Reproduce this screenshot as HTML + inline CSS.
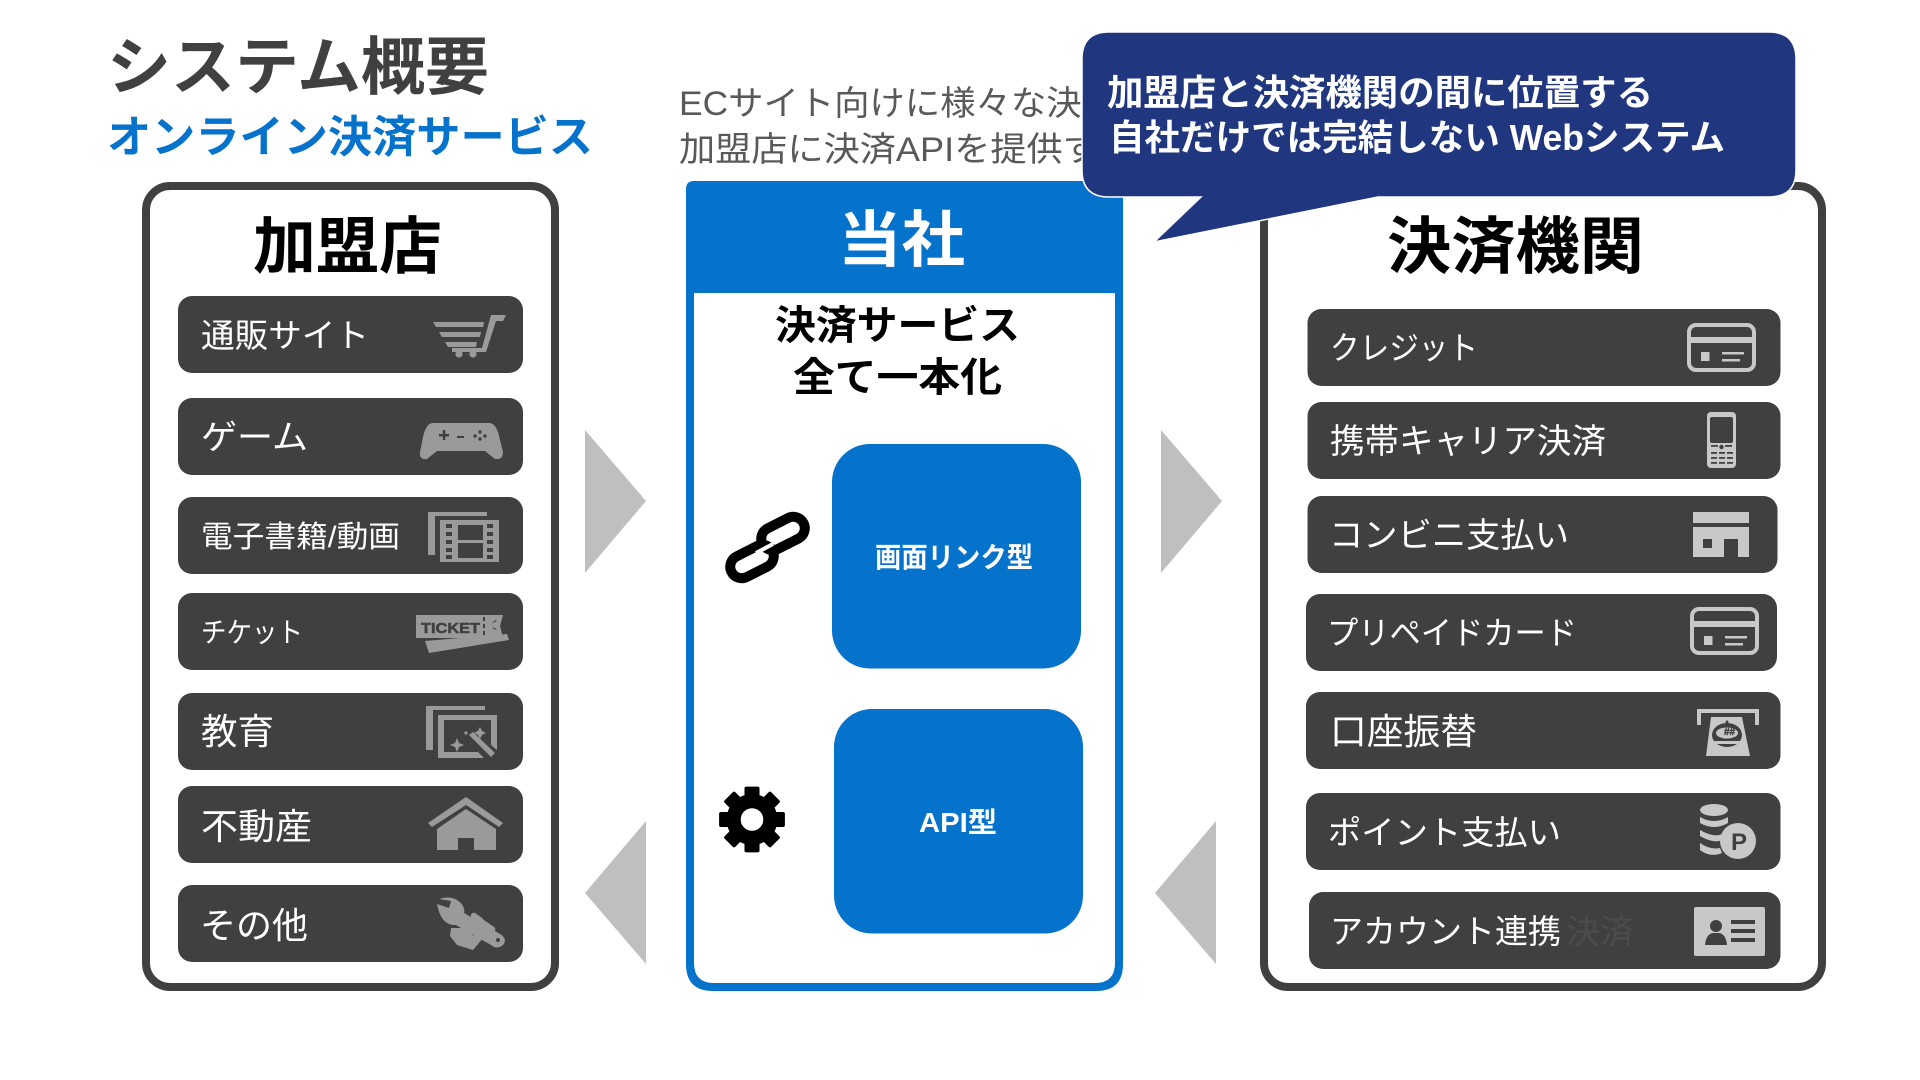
<!DOCTYPE html>
<html lang="ja"><head><meta charset="utf-8"><title>システム概要</title>
<style>
html,body{margin:0;padding:0;background:#fff;width:1920px;height:1080px;overflow:hidden}
svg{display:block}
text{font-family:"Liberation Sans","Noto Sans CJK JP",sans-serif}
.b{font-weight:700}
.w{fill:#fff}
.bar{fill:#404040}
.l{fill:#9a9a9a}
.r{fill:#c8c8c8}
.d{fill:#404040}
</style></head><body>
<svg width="1920" height="1080" viewBox="0 0 1920 1080" xmlns="http://www.w3.org/2000/svg">
<rect width="1920" height="1080" fill="#fff"/>

<text class="b" x="107" y="89" font-size="63" fill="#404040" textLength="382" lengthAdjust="spacingAndGlyphs">システム概要</text>
<text class="b" x="107" y="152" font-size="44" fill="#0572cb" textLength="486" lengthAdjust="spacingAndGlyphs">オンライン決済サービス</text>
<text x="679" y="115" font-size="34" fill="#595959" textLength="438" lengthAdjust="spacingAndGlyphs">ECサイト向けに様々な決済</text>
<text x="679" y="161" font-size="34" fill="#595959" textLength="456" lengthAdjust="spacingAndGlyphs">加盟店に決済APIを提供する</text>

<!-- left panel -->
<rect x="146" y="186" width="409" height="801" rx="24" fill="#fff" stroke="#404040" stroke-width="8"/>
<text class="b" x="253" y="268" font-size="62" fill="#000" textLength="189" lengthAdjust="spacingAndGlyphs">加盟店</text>
<rect class="bar" x="178" y="296" width="345" height="77" rx="14"/>
<rect class="bar" x="178" y="398" width="345" height="77" rx="14"/>
<rect class="bar" x="178" y="497" width="345" height="77" rx="14"/>
<rect class="bar" x="178" y="593" width="345" height="77" rx="14"/>
<rect class="bar" x="178" y="693" width="345" height="77" rx="14"/>
<rect class="bar" x="178" y="786" width="345" height="77" rx="14"/>
<rect class="bar" x="178" y="885" width="345" height="77" rx="14"/>
<text class="w" x="201" y="347" font-size="33" textLength="168" lengthAdjust="spacingAndGlyphs">通販サイト</text>
<text class="w" x="201" y="449" font-size="34" textLength="107" lengthAdjust="spacingAndGlyphs">ゲーム</text>
<text class="w" x="201" y="547" font-size="30" textLength="199" lengthAdjust="spacingAndGlyphs">電子書籍/動画</text>
<text class="w" x="201" y="642" font-size="28" textLength="102" lengthAdjust="spacingAndGlyphs">チケット</text>
<text class="w" x="201" y="744" font-size="36" textLength="73" lengthAdjust="spacingAndGlyphs">教育</text>
<text class="w" x="201" y="839" font-size="36" textLength="111" lengthAdjust="spacingAndGlyphs">不動産</text>
<text class="w" x="200" y="938" font-size="36" textLength="108" lengthAdjust="spacingAndGlyphs">その他</text>

<!-- left icons -->
<g class="l">
  <polygon points="433,322 484,322 483,327 436,327"/>
  <polygon points="439,332 481,332 480,337 442,337"/>
  <polygon points="445,342 477,342 476,347 448,347"/>
  <polygon points="491,315 506,315 503,321 496,321 486,352 452,352 452,348 482,348"/>
  <circle cx="459" cy="354" r="3.6"/><circle cx="473" cy="354" r="3.6"/>

  <path d="M432,423 L490,423 Q497,424 500,440 L503,452 Q503,460 495,459 L485,451 L437,451 L427,459 Q419,460 420,452 L423,437 Q426,424 432,423Z"/>
  <polygon points="428,512 487,512 487,516 435,516 435,555 428,555"/>
  <rect x="440" y="520" width="59" height="42"/>
  <polygon points="416,615 503,615 500,626 503,638 416,638"/>
  <polygon points="425,641 507,634 509,640 429,653"/>
  <polygon points="426,706 485,706 485,710 433,710 433,750 426,750"/>
  <path d="M438,715 H497 V750 L491,745 V720 H444 V752 H478 L484,758 H438Z"/>
  <polygon points="469,735 473,732 495,753 491,757"/>
  <polygon points="457,738 459,743 464,745 459,747 457,752 455,747 450,745 455,743"/>
  <polygon points="480,727 482,731 486,733 482,735 480,739 478,735 474,733 478,731"/>
  <circle cx="466" cy="733" r="1.6"/>

  <polygon points="466,797 503,823 499,827 466,805 432,827 428,823"/>
  <path d="M466,809 L496,829 V850 H474 V838 H458 V850 H437 V829Z"/>

  <!-- wrench with open jaw -->
  <path d="M437,904 L449,908 L451,901 L439,899 Q455,894 463,906 Q465,911 464,913 L500,934 Q508,939 503,945 Q497,950 491,945 L456,925 Q441,926 437,904Z"/>
  <circle cx="498" cy="940" r="2" fill="#404040"/>
  <path d="M451,928 L473,928 L472,935 L484,937 L473,950 L457,945 L450,936Z"/>
  <rect x="474" y="911" width="6" height="14" rx="3" transform="rotate(-55 477 918)"/>
  <rect x="480" y="916" width="6" height="14" rx="3" transform="rotate(-55 483 923)"/>
  <rect x="486" y="921" width="6" height="13" rx="3" transform="rotate(-55 489 927)"/>
</g>
<g class="d">
  <rect x="439" y="434" width="10" height="2.5"/><rect x="442.800" y="430" width="2.500" height="10"/>
  <rect x="457" y="436" width="7" height="2"/>
  <circle cx="475" cy="436" r="1.700"/><circle cx="480" cy="432" r="1.700"/><circle cx="480" cy="439" r="1.700"/><circle cx="485" cy="436" r="1.700"/>
  <rect x="458" y="525" width="25" height="15"/><rect x="458" y="543" width="25" height="15"/>
  <rect x="446" y="524" width="6" height="4"/><rect x="446" y="532" width="6" height="4"/><rect x="446" y="540" width="6" height="4"/><rect x="446" y="548" width="6" height="4"/><rect x="446" y="555" width="6" height="4"/>
  <rect x="487" y="524" width="6" height="4"/><rect x="487" y="532" width="6" height="4"/><rect x="487" y="540" width="6" height="4"/><rect x="487" y="548" width="6" height="4"/><rect x="487" y="555" width="6" height="4"/>
  <rect x="483" y="617" width="2" height="4"/><rect x="483" y="624" width="2" height="4"/><rect x="483" y="631" width="2" height="4"/>
  <path d="M497,620 A5,5 0 1 0 497,630 L495,628 A3,3 0 1 1 495,622Z"/>
</g>
<text class="b d" x="421" y="633" font-size="15" stroke="#404040" stroke-width=".5" textLength="59" lengthAdjust="spacingAndGlyphs">TICKET</text>

<!-- center panel -->
<path d="M694,181 H1115 Q1123,181 1123,189 V964 Q1123,991 1096,991 H713 Q686,991 686,964 V189 Q686,181 694,181Z" fill="#0572cb"/>
<path d="M694,293 H1115 V963 Q1115,983 1095,983 H714 Q694,983 694,963Z" fill="#fff"/>
<text class="b w" x="838" y="261" font-size="61" textLength="127" lengthAdjust="spacingAndGlyphs">当社</text>
<text class="b" x="775" y="339" font-size="40" fill="#000" textLength="245" lengthAdjust="spacingAndGlyphs">決済サービス</text>
<text class="b" x="793" y="391" font-size="40" fill="#000" textLength="209" lengthAdjust="spacingAndGlyphs">全て一本化</text>
<rect x="832" y="444" width="249" height="224.500" rx="38" fill="#0572cb"/>
<rect x="834" y="709" width="249" height="224.500" rx="38" fill="#0572cb"/>
<text class="b w" x="875" y="567" font-size="28" textLength="158" lengthAdjust="spacingAndGlyphs">画面リンク型</text>
<text class="b w" x="919" y="832" font-size="28" textLength="78" lengthAdjust="spacingAndGlyphs">API型</text>

<!-- link icon -->
<rect x="729" y="550" width="46" height="23" rx="11.500" transform="rotate(-27 752 561.500)" fill="none" stroke="#000" stroke-width="10"/>
<path d="M768,534 A11.500,11.500 0 0 1 778,520 L797,511 A11.500,11.500 0 0 1 804,533 L785,543" transform="translate(0 1)" fill="none" stroke="#fff" stroke-width="14"/>
<rect x="760" y="522" width="46" height="23" rx="11.500" transform="rotate(-27 783 533.500)" fill="none" stroke="#000" stroke-width="10"/>
<path d="M756,553 L773,544" stroke="#fff" stroke-width="4"/>
<!-- gear icon -->
<g transform="translate(752 819.500) scale(.94)" fill="#000">
  <circle r="19.500" fill="none" stroke="#000" stroke-width="15"/>
  <rect x="-8" y="-35" width="16" height="12" rx="2"/>
  <rect x="-8" y="-35" width="16" height="12" rx="2" transform="rotate(45)"/>
  <rect x="-8" y="-35" width="16" height="12" rx="2" transform="rotate(90)"/>
  <rect x="-8" y="-35" width="16" height="12" rx="2" transform="rotate(135)"/>
  <rect x="-8" y="-35" width="16" height="12" rx="2" transform="rotate(180)"/>
  <rect x="-8" y="-35" width="16" height="12" rx="2" transform="rotate(225)"/>
  <rect x="-8" y="-35" width="16" height="12" rx="2" transform="rotate(270)"/>
  <rect x="-8" y="-35" width="16" height="12" rx="2" transform="rotate(315)"/>
</g>

<!-- arrows -->
<polygon points="585,430 646,501 585,573" fill="#bfbfbf"/>
<polygon points="1161,430 1222,501 1161,573" fill="#bfbfbf"/>
<polygon points="646,821 585,893 646,964" fill="#bfbfbf"/>
<polygon points="1216,821 1155,893 1216,964" fill="#bfbfbf"/>

<!-- right panel -->
<rect x="1264" y="186" width="558" height="801" rx="24" fill="#fff" stroke="#404040" stroke-width="8"/>
<text class="b" x="1387" y="268" font-size="62" fill="#000" textLength="257" lengthAdjust="spacingAndGlyphs">決済機関</text>
<rect class="bar" x="1307.500" y="309" width="473" height="77" rx="14"/>
<rect class="bar" x="1307.500" y="402" width="473" height="77" rx="14"/>
<rect class="bar" x="1307.500" y="496" width="470" height="77" rx="14"/>
<rect class="bar" x="1306" y="594" width="471" height="77" rx="14"/>
<rect class="bar" x="1306" y="692" width="474.500" height="77" rx="14"/>
<rect class="bar" x="1306" y="793" width="474.500" height="77" rx="14"/>
<rect class="bar" x="1309" y="892" width="471.500" height="77" rx="14"/>
<text class="w" x="1330" y="359" font-size="32" textLength="148" lengthAdjust="spacingAndGlyphs">クレジット</text>
<text class="w" x="1330" y="453" font-size="34" textLength="276" lengthAdjust="spacingAndGlyphs">携帯キャリア決済</text>
<text class="w" x="1329" y="547" font-size="34" textLength="240" lengthAdjust="spacingAndGlyphs">コンビニ支払い</text>
<text class="w" x="1327" y="644" font-size="32" textLength="250" lengthAdjust="spacingAndGlyphs">プリペイドカード</text>
<text class="w" x="1330" y="744" font-size="36" textLength="147" lengthAdjust="spacingAndGlyphs">口座振替</text>
<text class="w" x="1328" y="844" font-size="33" textLength="233" lengthAdjust="spacingAndGlyphs">ポイント支払い</text>
<text class="w" x="1330" y="943" font-size="33" textLength="231" lengthAdjust="spacingAndGlyphs">アカウント連携</text>
<text x="1566" y="943" font-size="33" fill="#4c4c4c" textLength="68" lengthAdjust="spacingAndGlyphs">決済</text>

<!-- right icons -->
<g fill="none" stroke="#c8c8c8" stroke-width="4">
  <rect x="1689" y="325" width="65" height="45" rx="7"/>
  <rect x="1692" y="609" width="65" height="44" rx="7"/>
  <path d="M1699,725 Q1699,711 1699,711 H1757 V725" stroke-width="4"/>
</g>
<g class="r">
  <rect x="1689" y="337" width="65" height="6"/>
  <rect x="1701" y="352" width="8.500" height="9"/>
  <rect x="1722" y="352" width="22" height="2.500"/><rect x="1722" y="359" width="18" height="2.500"/>
  <rect x="1692" y="621" width="65" height="6"/>
  <rect x="1704" y="636" width="8.500" height="9"/>
  <rect x="1725" y="636" width="22" height="2.500"/><rect x="1725" y="643" width="18" height="2.500"/>

  <rect x="1707" y="412" width="29" height="56" rx="4"/>

  <rect x="1693" y="512" width="56" height="11"/>
  <rect x="1693" y="527" width="56" height="30"/>

  <polygon points="1711,717 1742,717 1750,756 1706,756"/>

  <ellipse cx="1714" cy="810" rx="14" ry="6"/>
  <path d="M1700,817 Q1714,825 1728,817 V823 Q1714,831 1700,823Z"/>
  <path d="M1700,830 Q1714,838 1722,834 V840 Q1714,844 1700,836Z"/>
  <path d="M1700,843 Q1710,850 1720,848 L1722,853 Q1710,858 1700,850Z"/>
  <circle cx="1738" cy="841" r="18"/>

  <rect x="1694" y="907" width="71" height="49" rx="2"/>
</g>
<g class="d">
  <rect x="1710" y="417" width="23" height="26" rx="2"/>
  <rect x="1711" y="445" width="7" height="1.800"/><rect x="1725" y="445" width="7" height="1.800"/>
  <circle cx="1721.500" cy="447" r="2.200"/>
  <rect x="1711" y="452" width="6" height="1.800"/><rect x="1719" y="452" width="6" height="1.800"/><rect x="1727" y="452" width="6" height="1.800"/>
  <rect x="1711" y="457" width="6" height="1.800"/><rect x="1719" y="457" width="6" height="1.800"/><rect x="1727" y="457" width="6" height="1.800"/>
  <rect x="1711" y="462" width="6" height="1.800"/><rect x="1719" y="462" width="6" height="1.800"/><rect x="1727" y="462" width="6" height="1.800"/>

  <rect x="1703" y="539" width="9" height="9"/>
  <rect x="1724" y="539" width="14" height="18"/>

  <ellipse cx="1727" cy="735" rx="15" ry="12"/>

  <rect x="1731" y="920" width="24" height="4"/><rect x="1731" y="929" width="24" height="4"/><rect x="1731" y="938" width="24" height="4"/>
  <circle cx="1716" cy="926" r="6"/>
  <path d="M1705,945 Q1706,934 1713,933 H1719 Q1726,934 1727,945Z"/>
</g>
<g class="r">
  <ellipse cx="1727" cy="733" rx="11" ry="5.500"/>
  <rect x="1712" y="741" width="30" height="3"/>
  <circle cx="1727" cy="722" r="1.500" fill="#404040"/>
</g>
<text class="d b" x="1724" y="735" font-size="10" stroke="#404040" stroke-width=".4">##</text>
<text class="d b" x="1731" y="850" font-size="24">P</text>

<!-- callout -->
<path d="M1109,32 H1769 Q1796,32 1796,59 V170 Q1796,197 1769,197 H1378 L1154,242 L1201,197 H1109 Q1082,197 1082,170 V59 Q1082,32 1109,32Z" fill="#20377f" stroke="#fff" stroke-width="1.500"/>
<text class="b w" x="1107" y="105" font-size="36" textLength="546" lengthAdjust="spacingAndGlyphs">加盟店と決済機関の間に位置する</text>
<text class="b w" x="1109" y="150" font-size="36" textLength="616" lengthAdjust="spacingAndGlyphs">自社だけでは完結しない Webシステム</text>
</svg>
</body></html>
